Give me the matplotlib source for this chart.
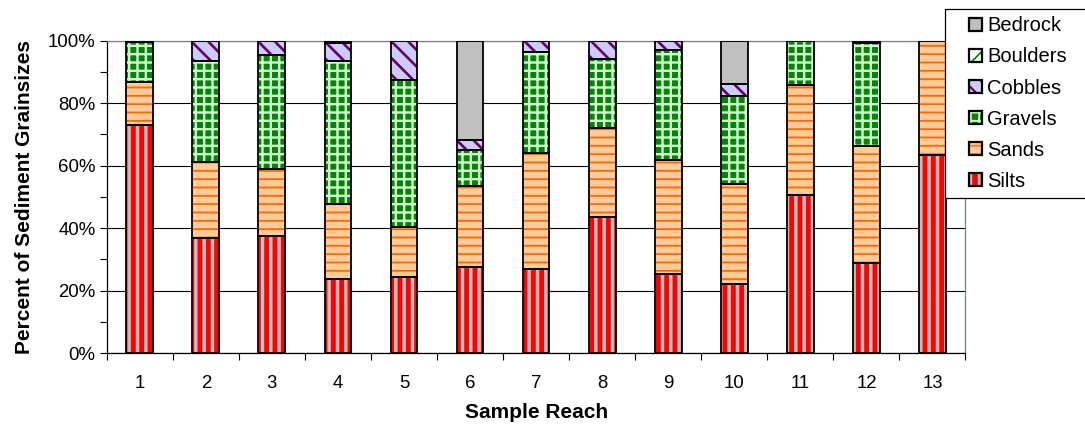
import matplotlib
matplotlib.use("Agg")
import matplotlib as mpl
import matplotlib.pyplot as plt
import numpy as np
from matplotlib.patches import Rectangle
from matplotlib.legend_handler import HandlerBase
from matplotlib.ticker import MultipleLocator, FixedLocator, FuncFormatter

# ---------------- data ----------------
reaches = ["1", "2", "3", "4", "5", "6", "7", "8", "9", "10", "11", "12", "13"]
silts    = [73.0, 36.8, 37.5, 23.6, 24.5, 27.7, 26.9, 43.7, 25.3, 22.1, 50.6, 28.9, 63.5]
sands    = [13.8, 24.5, 21.4, 24.2, 15.7, 25.8, 37.1, 28.4, 36.6, 32.1, 35.1, 37.4, 36.5]
gravels  = [12.7, 32.1, 36.6, 45.6, 47.3, 11.6, 32.4, 22.1, 35.0, 28.2, 14.3, 33.0, 0.0]
cobbles  = [0.5, 6.6, 4.5, 5.9, 12.5, 3.2, 3.6, 5.8, 3.1, 3.7, 0.0, 0.7, 0.0]
boulders = [0.0, 0.0, 0.0, 0.7, 0.0, 0.0, 0.0, 0.0, 0.0, 0.0, 0.0, 0.0, 0.0]
bedrock  = [0.0, 0.0, 0.0, 0.0, 0.0, 31.7, 0.0, 0.0, 0.0, 13.9, 0.0, 0.0, 0.0]
series_names = ["Silts", "Sands", "Gravels", "Cobbles", "Boulders", "Bedrock"]
yticks = [0, 20, 40, 60, 80, 100]

# ---------------- styles ----------------
styles = {
    "Silts":    dict(face="#ff0000", hatch="||",   hc="#c0c0c0", hlw=2.5),
    "Sands":    dict(face="#ffcc99", hatch="--",   hc="#ff6600", hlw=1.3),
    "Gravels":  dict(face="#0a820a", hatch="++",   hc="#ccffcc", hlw=1.7),
    "Cobbles":  dict(face="#ccccff", hatch="\\\\", hc="#660066", hlw=1.9),
    "Boulders": dict(face="#ffffff", hatch="//",   hc="#008000", hlw=1.5),
    "Bedrock":  dict(face="#c0c0c0", hatch=None,   hc="#c0c0c0", hlw=1.0),
}
values = dict(Silts=silts, Sands=sands, Gravels=gravels, Cobbles=cobbles,
              Boulders=boulders, Bedrock=bedrock)

plt.rcParams["font.family"] = ["Liberation Sans", "DejaVu Sans"]

W, H = 1085, 430
fig = plt.figure(figsize=(W / 100, H / 100), dpi=100)
left, right, top, bottom = 106.7, 965.5, 40.8, 353.0
ax = fig.add_axes([left / W, 1 - bottom / H, (right - left) / W, (bottom - top) / H])


def set_hlw(p, lw):
    if hasattr(p, "set_hatch_linewidth"):
        p.set_hatch_linewidth(lw)


x = np.arange(1, len(reaches) + 1)
barw = 0.405
base = np.zeros(len(reaches))
for name in series_names:
    v = np.array(values[name], dtype=float)
    st = styles[name]
    m = v > 0
    with mpl.rc_context({"hatch.linewidth": st["hlw"]}):
        bars = ax.bar(x[m], v[m], bottom=base[m], width=barw, color=st["face"],
                      hatch=st["hatch"], edgecolor=st["hc"], linewidth=0, zorder=2)
    for p in bars:
        set_hlw(p, st["hlw"])
    ax.bar(x[m], v[m], bottom=base[m], width=barw, fill=False,
           edgecolor="black", linewidth=1.3, zorder=3)
    base = base + v

ax.set_xlim(0.5, len(reaches) + 0.5)
ax.set_ylim(0, 100)
ax.yaxis.set_major_locator(FixedLocator(yticks))
ax.yaxis.set_minor_locator(MultipleLocator(10))
ax.yaxis.set_major_formatter(FuncFormatter(lambda v, p: f"{v:.0f}%"))
ax.grid(axis="y", which="major", color="black", linewidth=0.8, zorder=0)
ax.set_axisbelow(True)

# x: ticks at boundaries, labels at centres
ax.xaxis.set_major_locator(FixedLocator(np.arange(0.5, len(reaches) + 1, 1.0)))
ax.xaxis.set_major_formatter(FuncFormatter(lambda v, p: ""))
ax.xaxis.set_minor_locator(FixedLocator(x))
ax.set_xticklabels(reaches, minor=True)
ax.tick_params(axis="x", which="major", direction="out", length=5, width=0.8)
ax.tick_params(axis="x", which="minor", length=0, pad=16, labelsize=13.4)
ax.tick_params(axis="y", which="both", direction="out", length=5, width=0.8,
               labelsize=13.4, pad=3)

for s in ["left", "bottom"]:
    ax.spines[s].set_color("black")
    ax.spines[s].set_linewidth(0.9)
for s in ["right", "top"]:
    ax.spines[s].set_color("#808080")
    ax.spines[s].set_linewidth(0.9)

ax.set_xlabel("Sample Reach", fontsize=15, fontweight="bold", labelpad=8)
ax.set_ylabel("Percent of Sediment Grainsizes", fontsize=15, fontweight="bold", labelpad=10)


# ---------------- legend ----------------
class SquareHandler(HandlerBase):
    def create_artists(self, legend, orig_handle, xdescent, ydescent, width,
                       height, fontsize, trans):
        side = 9.4
        x0 = -xdescent + width - side
        y0 = -ydescent + (height - side) / 2
        st = orig_handle.st
        p1 = Rectangle((x0, y0), side, side, facecolor=st["face"], hatch=st["hatch"],
                       edgecolor=st["hc"], linewidth=0, transform=trans)
        set_hlw(p1, st["hlw"] * 0.8)
        p2 = Rectangle((x0, y0), side, side, fill=False, edgecolor="black",
                       linewidth=1.6, transform=trans)
        return [p1, p2]


handles = []
for name in series_names[::-1]:
    r = Rectangle((0, 0), 1, 1)
    r.st = styles[name]
    handles.append(r)

leg = fig.legend(handles, series_names[::-1], loc="upper left",
                 bbox_to_anchor=(945 / W, 0, 160 / W, 1 - 9.3 / H),
                 mode="expand", borderaxespad=0, fontsize=14.5,
                 handler_map={Rectangle: SquareHandler()},
                 handlelength=1.5, handleheight=0.7, handletextpad=0.25,
                 labelspacing=0.6, borderpad=0.35, fancybox=False, framealpha=1,
                 edgecolor="black")
leg.get_frame().set_linewidth(0.9)

fig.savefig("out.png", dpi=100)
